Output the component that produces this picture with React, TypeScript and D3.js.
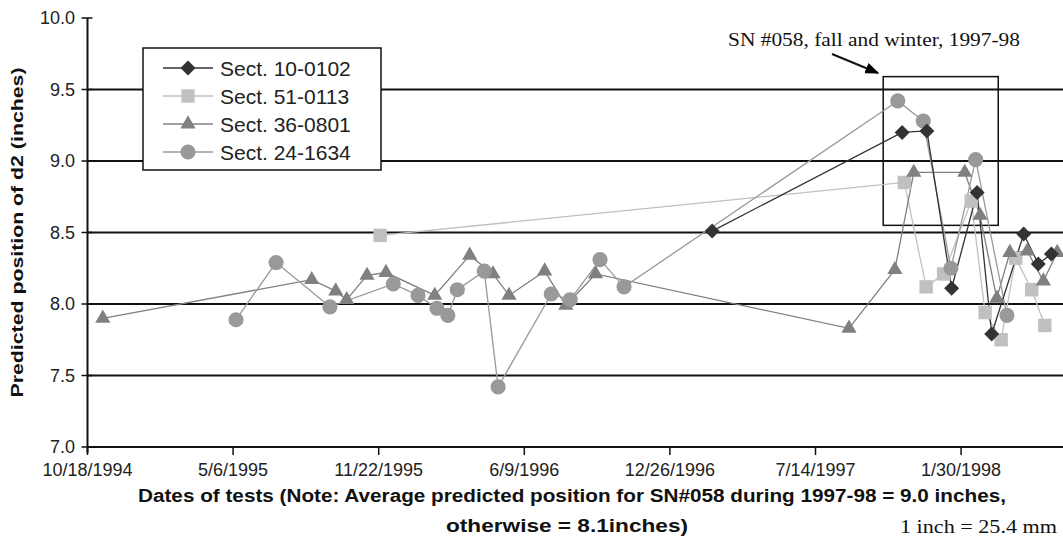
import React from "react";
import * as d3 from "d3";

// Sect. 10-0102 (dark diamonds)
const sect10Dates = ["1997-02-22", "1997-11-10", "1997-12-14", "1998-01-17", "1998-02-21", "1998-03-13", "1998-04-26", "1998-05-16", "1998-06-03"];
const sect10Values = [8.51, 9.2, 9.21, 8.11, 8.78, 7.79, 8.49, 8.28, 8.35];

// Sect. 51-0113 (light squares)
const sect51Dates = ["1995-11-24", "1997-11-13", "1997-12-13", "1998-01-06", "1998-02-13", "1998-03-04", "1998-03-26", "1998-04-15", "1998-05-07", "1998-05-25"];
const sect51Values = [8.48, 8.85, 8.12, 8.21, 8.72, 7.94, 7.75, 8.32, 8.1, 7.85];

// Sect. 36-0801 (triangles)
const sect36Dates = ["1994-11-08", "1995-08-22", "1995-09-24", "1995-10-09", "1995-11-06", "1995-12-02", "1996-02-07", "1996-03-26", "1996-04-27", "1996-05-19", "1996-07-07", "1996-08-05", "1996-09-15", "1997-08-29", "1997-10-31", "1997-11-26", "1998-02-04", "1998-02-25", "1998-03-20", "1998-04-07", "1998-05-01", "1998-05-23", "1998-06-11"];
const sect36Values = [7.9, 8.17, 8.09, 8.03, 8.2, 8.22, 8.06, 8.34, 8.21, 8.06, 8.23, 7.99, 8.21, 7.83, 8.24, 8.92, 8.92, 8.62, 8.04, 8.36, 8.37, 8.16, 8.36];

// Sect. 24-1634 (circles)
const sect24Dates = ["1995-05-10", "1995-07-04", "1995-09-16", "1995-12-12", "1996-01-15", "1996-02-10", "1996-02-25", "1996-03-09", "1996-04-15", "1996-05-04", "1996-07-16", "1996-08-11", "1996-09-21", "1996-10-24", "1997-11-04", "1997-12-09", "1998-01-16", "1998-02-19", "1998-04-03"];
const sect24Values = [7.89, 8.29, 7.98, 8.14, 8.06, 7.97, 7.92, 8.1, 8.23, 7.42, 8.07, 8.03, 8.31, 8.12, 9.42, 9.28, 8.25, 9.01, 7.92];

const xTickLabels = ["10/18/1994", "5/6/1995", "11/22/1995", "6/9/1996", "12/26/1996", "7/14/1997", "1/30/1998"];
const yTicks = [7.0, 7.5, 8.0, 8.5, 9.0, 9.5, 10.0];

// annotation box around SN #058 (data coordinates)
const boxDates = ["1997-10-15", "1998-03-22"];
const boxValues = [8.55, 9.59];

const W = 1063;
const H = 544;
const left = 87.5;
const top = 18;
const bottom = 447;

const parse = d3.utcParse("%Y-%m-%d");
const parseTick = d3.utcParse("%m/%d/%Y");

const x = d3
  .scaleUtc()
  .domain([parse("1994-10-18")!, parse("1998-08-18")!])
  .range([left, left + 1400 * 0.728]);
const y = d3.scaleLinear().domain([7, 10]).range([bottom, top]);

const series = [
  { name: "Sect. 10-0102", dates: sect10Dates, values: sect10Values, color: "#333333", symbol: "diamond" },
  { name: "Sect. 51-0113", dates: sect51Dates, values: sect51Values, color: "#c0c0c0", symbol: "square" },
  { name: "Sect. 36-0801", dates: sect36Dates, values: sect36Values, color: "#808080", symbol: "triangle" },
  { name: "Sect. 24-1634", dates: sect24Dates, values: sect24Values, color: "#999999", symbol: "circle" },
];

const symbolPath = (kind: string) => {
  if (kind === "diamond") return d3.symbol(d3.symbolSquare, 112)()!;
  if (kind === "square") return d3.symbol(d3.symbolSquare, 180)()!;
  if (kind === "triangle") return d3.symbol(d3.symbolTriangle, 100)()!;
  return d3.symbol(d3.symbolCircle, 180)()!;
};

const Marker = ({ kind, cx, cy, color }: any) => (
  <path
    d={symbolPath(kind)}
    fill={color}
    transform={`translate(${cx},${cy})${kind === "diamond" ? " rotate(45)" : ""}`}
  />
);

export default function App() {
  const line = d3
    .line<[Date, number]>()
    .x((d) => x(d[0]))
    .y((d) => y(d[1]));

  const pts = series.map((s) => s.dates.map((d, i) => [parse(d)!, s.values[i]] as [Date, number]));
  const drawOrder = [1, 2, 3, 0];

  const bx0 = x(parse(boxDates[0])!);
  const bx1 = x(parse(boxDates[1])!);
  const by0 = y(boxValues[1]);
  const by1 = y(boxValues[0]);

  return (
    <svg
      width={W}
      height={H}
      style={{ position: "absolute", left: 0, top: 0, background: "#fff" }}
      fontFamily="'Liberation Sans', Arial, sans-serif"
    >
      <defs>
        <marker id="arrow" viewBox="0 0 10 10" refX="9" refY="5" markerWidth="7" markerHeight="7" orient="auto">
          <path d="M0,1 L10,5 L0,9 z" fill="#000" />
        </marker>
      </defs>

      {/* gridlines */}
      {yTicks.slice(1, -1).map((t) => (
        <line key={t} x1={left} x2={W} y1={y(t)} y2={y(t)} stroke="#111" strokeWidth={2} />
      ))}

      {/* axes */}
      <line x1={left} x2={W} y1={bottom} y2={bottom} stroke="#111" strokeWidth={2} />
      <line x1={left} x2={left} y1={top} y2={bottom + 6} stroke="#111" strokeWidth={2} />
      {yTicks.map((t) => (
        <g key={t}>
          <line x1={left - 6} x2={left + 5} y1={y(t)} y2={y(t)} stroke="#111" strokeWidth={1.5} />
          <text x={75} y={y(t)} dy="0.35em" textAnchor="end" fontSize={18} fill="#222">
            {t.toFixed(1)}
          </text>
        </g>
      ))}
      {xTickLabels.map((lab) => {
        const tx = x(parseTick(lab)!);
        return (
          <g key={lab}>
            <line x1={tx} x2={tx} y1={bottom} y2={bottom + 8} stroke="#111" strokeWidth={1.5} />
            <text x={tx} y={476} textAnchor="middle" fontSize={18} fill="#222">
              {lab}
            </text>
          </g>
        );
      })}

      {/* annotation box */}
      <rect x={bx0} y={by0} width={bx1 - bx0} height={by1 - by0} fill="none" stroke="#111" strokeWidth={1.5} />

      {/* series lines */}
      {drawOrder.map((i) => (
        <path key={series[i].name} d={line(pts[i])!} fill="none" stroke={series[i].color} strokeWidth={1.3} />
      ))}
      {/* markers */}
      {drawOrder.map((i) =>
        pts[i].map((p, j) => (
          <Marker key={series[i].name + j} kind={series[i].symbol} cx={x(p[0])} cy={y(p[1])} color={series[i].color} />
        ))
      )}

      {/* annotation */}
      <text x={728} y={46} fontFamily="'Liberation Serif', 'Times New Roman', serif" fontSize={18} textLength={292} lengthAdjust="spacingAndGlyphs" fill="#111">
        SN #058, fall and winter, 1997-98
      </text>
      <line x1={832} y1={54} x2={878} y2={73} stroke="#111" strokeWidth={2} markerEnd="url(#arrow)" />

      {/* legend */}
      <rect x={143} y={48} width={238} height={122} fill="#fff" stroke="#111" strokeWidth={1.5} />
      {series.map((s, i) => {
        const ly = 68 + i * 28;
        return (
          <g key={s.name}>
            <line x1={163} x2={213} y1={ly} y2={ly} stroke={s.color} strokeWidth={1.5} />
            <Marker kind={s.symbol} cx={188} cy={ly} color={s.color} />
            <text x={220} y={ly} dy="0.36em" fontSize={21} fill="#222">
              {s.name}
            </text>
          </g>
        );
      })}

      {/* axis titles */}
      <text
        transform={`translate(23,${(top + bottom) / 2}) rotate(-90)`}
        textAnchor="middle"
        fontSize={17}
        fontWeight="bold"
        textLength={330}
        lengthAdjust="spacingAndGlyphs"
        fill="#111"
      >
        Predicted position of d2 (inches)
      </text>
      <text x={572} y={502} textAnchor="middle" fontSize={18} fontWeight="bold" textLength={868} lengthAdjust="spacingAndGlyphs" fill="#111">
        Dates of tests (Note: Average predicted position for SN#058 during 1997-98 = 9.0 inches,
      </text>
      <text x={567} y={532} textAnchor="middle" fontSize={18} fontWeight="bold" textLength={242} lengthAdjust="spacingAndGlyphs" fill="#111">
        otherwise = 8.1inches)
      </text>
      <text x={900} y={533} fontFamily="'Liberation Serif', 'Times New Roman', serif" fontSize={18} textLength={157} lengthAdjust="spacingAndGlyphs" fill="#111">
        1 inch = 25.4 mm
      </text>
    </svg>
  );
}
